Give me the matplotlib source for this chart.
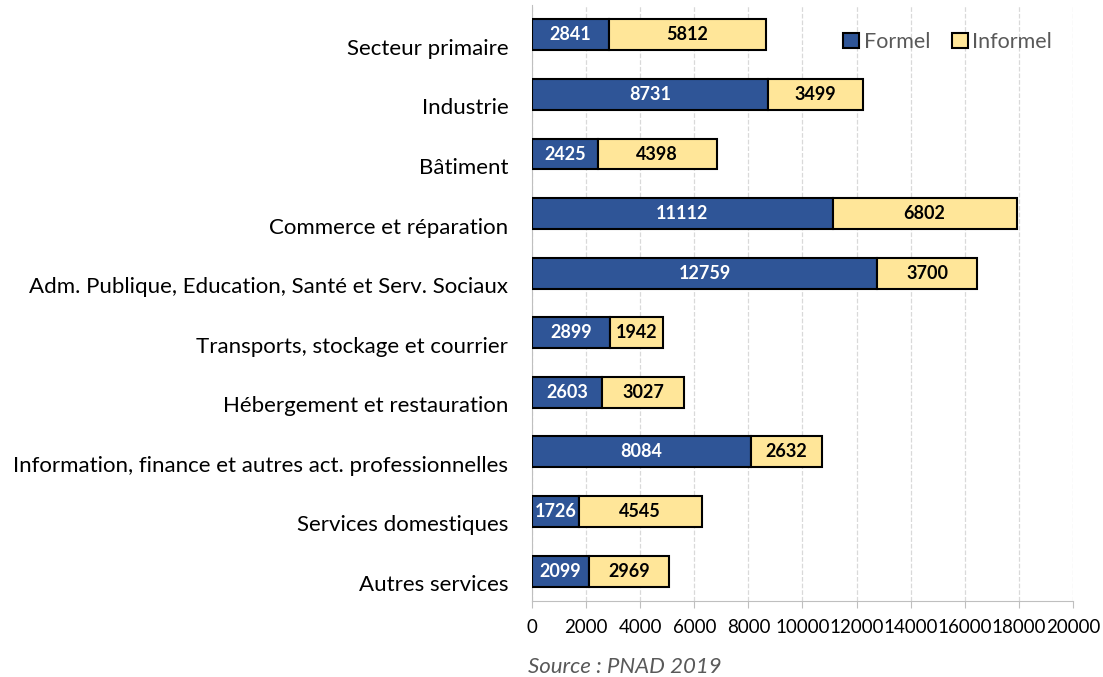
import numpy as np
import matplotlib.pyplot as plt

plt.rcParams['font.family'] = ['Lato', 'DejaVu Sans']

categories = ["Secteur primaire", "Industrie", "Bâtiment", "Commerce et réparation",
              "Adm. Publique, Education, Santé et Serv. Sociaux",
              "Transports, stockage et courrier", "Hébergement et restauration",
              "Information, finance et autres act. professionnelles",
              "Services domestiques", "Autres services"]
formel = [2841, 8731, 2425, 11112, 12759, 2899, 2603, 8084, 1726, 2099]
informel = [5812, 3499, 4398, 6802, 3700, 1942, 3027, 2632, 4545, 2969]

blue = "#2F5597"
yellow = "#FFE699"
grey_text = "#595959"

fig = plt.figure(figsize=(11.03, 6.77), dpi=100)
ax = fig.add_axes([0.4823, 0.1123, 0.4905, 0.8803])

y = np.arange(len(categories))
ax.barh(y, formel, height=0.52, color=blue, edgecolor="black", linewidth=1.5, zorder=3,
        label="Formel")
ax.barh(y, informel, left=formel, height=0.52, color=yellow, edgecolor="black",
        linewidth=1.5, zorder=3, label="Informel")

for i in range(len(categories)):
    ax.text(formel[i] / 2, y[i], str(formel[i]), ha="center", va="center",
            color="white", fontsize=13, fontweight="bold", zorder=4)
    ax.text(formel[i] + informel[i] / 2, y[i], str(informel[i]), ha="center",
            va="center", color="black", fontsize=13, fontweight="bold", zorder=4)

ax.set_ylim(len(categories) - 0.5, -0.5)
ax.set_xlim(0, 20000)
ax.set_xticks(np.arange(0, 20001, 2000))
# category labels sit a little below the bar centres, as in the original
ax.set_yticks(y + 0.2)
ax.set_yticklabels(categories, fontsize=16, color="black")
ax.tick_params(axis="x", labelsize=13.5, colors="black", length=5, color="#BFBFBF", pad=8)
ax.tick_params(axis="y", length=0, pad=17)
ax.grid(axis="x", color="#D9D9D9", linestyle="--", linewidth=0.9, zorder=0)

for side in ["top", "right"]:
    ax.spines[side].set_visible(False)
ax.spines["left"].set_color("#BFBFBF")
ax.spines["bottom"].set_color("#BFBFBF")

leg = ax.legend(loc="center", bbox_to_anchor=(0.768, 0.938), ncol=2, frameon=False,
                fontsize=15.5, handlelength=0.75, handleheight=0.75, handletextpad=0.2,
                columnspacing=1.0, borderaxespad=0.0)
for t in leg.get_texts():
    t.set_color(grey_text)

fig.text(0.479, 0.0, "Source : PNAD 2019", fontsize=16, style="italic",
         color=grey_text, ha="left", va="bottom")

fig.savefig("out.png", dpi=100)
